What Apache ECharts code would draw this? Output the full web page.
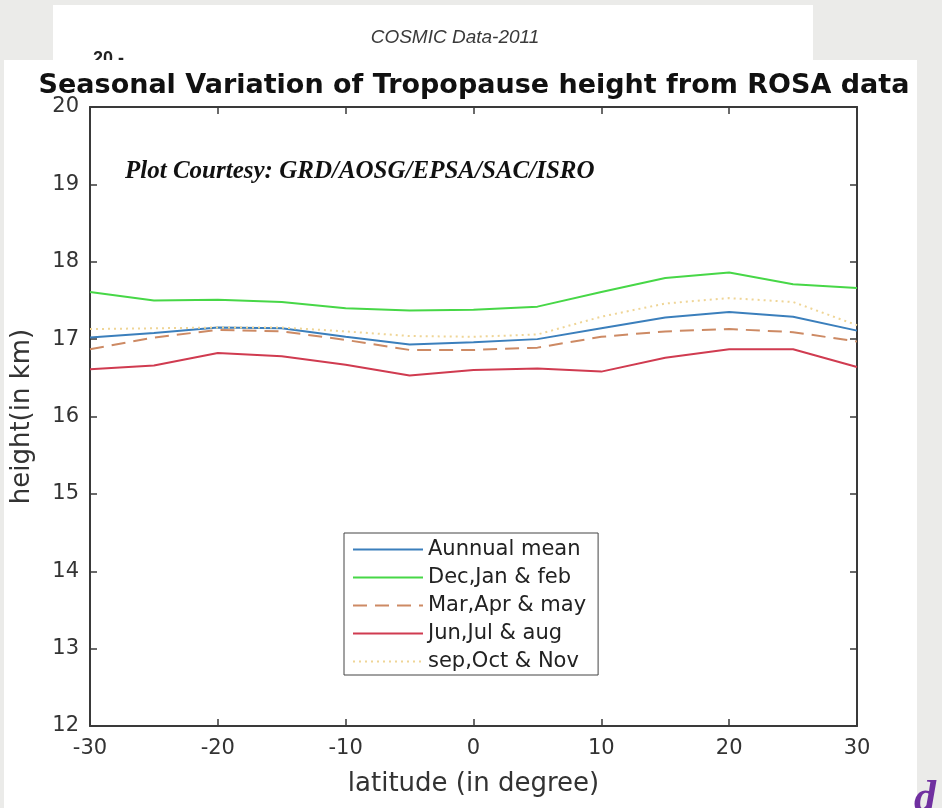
<!DOCTYPE html>
<html>
<head>
<meta charset="utf-8">
<style>
  html, body { margin: 0; padding: 0; background: #ebebe9; }
  #chart { width: 942px; height: 808px; }
</style>
<script src="https://cdn.jsdelivr.net/npm/echarts@6/dist/echarts.min.js"></script>
</head>
<body>
<div id="chart"></div>
<script>
// ---- data ----
const latitude = [-30, -25, -20, -15, -10, -5, 0, 5, 10, 15, 20, 25, 30];
const annualMean = [17.02, 17.08, 17.15, 17.14, 17.03, 16.93, 16.96, 17.00, 17.14, 17.28, 17.35, 17.29, 17.11];
const decJanFeb  = [17.61, 17.50, 17.51, 17.48, 17.40, 17.37, 17.38, 17.42, 17.61, 17.79, 17.86, 17.71, 17.66];
const marAprMay  = [16.87, 17.02, 17.12, 17.10, 16.99, 16.86, 16.86, 16.89, 17.03, 17.10, 17.13, 17.09, 16.97];
const junJulAug  = [16.61, 16.66, 16.82, 16.78, 16.67, 16.53, 16.60, 16.62, 16.58, 16.76, 16.87, 16.87, 16.64];
const sepOctNov  = [17.13, 17.14, 17.15, 17.15, 17.10, 17.04, 17.03, 17.06, 17.29, 17.46, 17.53, 17.48, 17.18];
const seriesNames = ['Aunnual mean', 'Dec,Jan & feb', 'Mar,Apr & may', 'Jun,Jul & aug', 'sep,Oct & Nov'];
const xTicks = [-30, -20, -10, 0, 10, 20, 30];
const yTicks = [12, 13, 14, 15, 16, 17, 18, 19, 20];

const pair = arr => latitude.map((x, i) => [x, arr[i]]);

const axisColor = '#3a3a3a';
const labelFont = { fontFamily: 'DejaVu Sans', fontSize: 21, color: '#333' };

const chart = echarts.init(document.getElementById('chart'), null, { renderer: 'canvas' });

function lineSeries(name, data, color, type) {
  return {
    name: name, type: 'line', data: pair(data), symbol: 'none', z: 6,
    xAxisIndex: 0, yAxisIndex: 0,
    lineStyle: { color: color, width: 2, type: type || 'solid' },
    itemStyle: { color: color },
    emphasis: { disabled: true }, animation: false
  };
}

const option = {
  backgroundColor: '#ebebe9',
  animation: false,
  grid: { left: 90, right: 85, top: 107, bottom: 82 },
  xAxis: [
    {
      type: 'value', position: 'bottom', min: xTicks[0], max: xTicks[xTicks.length - 1], interval: 10, z: 5,
      name: 'latitude (in degree)', nameLocation: 'middle', nameGap: 45,
      nameTextStyle: { fontFamily: 'DejaVu Sans', fontSize: 26, color: '#333' },
      axisLine: { show: true, onZero: false, lineStyle: { color: axisColor, width: 2 } },
      axisTick: { show: true, inside: true, length: 7, lineStyle: { color: axisColor, width: 1.5 } },
      axisLabel: Object.assign({ margin: 12 }, labelFont),
      splitLine: { show: false }
    },
    {
      type: 'value', position: 'top', min: xTicks[0], max: xTicks[xTicks.length - 1], interval: 10, z: 5,
      axisLine: { show: true, onZero: false, lineStyle: { color: axisColor, width: 2 } },
      axisTick: { show: true, inside: true, length: 7, lineStyle: { color: axisColor, width: 1.5 } },
      axisLabel: { show: false }, splitLine: { show: false }
    }
  ],
  yAxis: [
    {
      type: 'value', position: 'left', min: yTicks[0], max: yTicks[yTicks.length - 1], interval: 1, z: 5,
      name: 'height(in km)', nameLocation: 'middle', nameGap: 55,
      nameTextStyle: { fontFamily: 'DejaVu Sans', fontSize: 26, color: '#333' },
      axisLine: { show: true, onZero: false, lineStyle: { color: axisColor, width: 2 } },
      axisTick: { show: true, inside: true, length: 7, lineStyle: { color: axisColor, width: 1.5 } },
      axisLabel: Object.assign({ margin: 11 }, labelFont),
      splitLine: { show: false }
    },
    {
      type: 'value', position: 'right', min: yTicks[0], max: yTicks[yTicks.length - 1], interval: 1, z: 5,
      axisLine: { show: true, onZero: false, lineStyle: { color: axisColor, width: 2 } },
      axisTick: { show: true, inside: true, length: 7, lineStyle: { color: axisColor, width: 1.5 } },
      axisLabel: { show: false }, splitLine: { show: false }
    }
  ],
  legend: {
    orient: 'vertical', left: 344, top: 533, z: 8,
    data: seriesNames,
    itemWidth: 70, itemHeight: 14, itemGap: 7,
    padding: [6, 12, 3, 8],
    backgroundColor: '#ffffff', borderColor: '#444', borderWidth: 1,
    itemStyle: { opacity: 0, borderWidth: 0 },
    textStyle: { fontFamily: 'DejaVu Sans', fontSize: 21, color: '#222' },
    selectedMode: false
  },
  series: [
    lineSeries(seriesNames[0], annualMean, '#3b7fbc'),
    lineSeries(seriesNames[1], decJanFeb, '#47d747'),
    lineSeries(seriesNames[2], marAprMay, '#cd8a64', [14, 8]),
    lineSeries(seriesNames[3], junJulAug, '#d03b50'),
    lineSeries(seriesNames[4], sepOctNov, '#efd596', [2, 4])
  ],
  graphic: [
    { type: 'rect', z: 0, silent: true, shape: { x: 53, y: 5, width: 760, height: 60 }, style: { fill: '#ffffff' } },
    { type: 'text', z: 1, silent: true, style: { x: 455, y: 38, text: 'COSMIC Data-2011', textAlign: 'center', textVerticalAlign: 'middle', font: 'italic 19px "Liberation Sans"', fill: '#3a3a3a' } },
    { type: 'text', z: 1, silent: true, style: { x: 93, y: 59, text: '20 -', textAlign: 'left', textVerticalAlign: 'middle', font: 'bold 18px "Liberation Sans"', fill: '#222' } },
    { type: 'rect', z: 2, silent: true, shape: { x: 4, y: 60, width: 913, height: 760 }, style: { fill: '#ffffff' } },
    { type: 'text', z: 3, silent: true, style: { x: 474, y: 86, text: 'Seasonal Variation of Tropopause height from ROSA data', textAlign: 'center', textVerticalAlign: 'middle', font: 'bold 27px "DejaVu Sans"', fill: '#111' } },
    { type: 'text', z: 7, silent: true, style: { x: 125, y: 172, text: 'Plot Courtesy: GRD/AOSG/EPSA/SAC/ISRO', textAlign: 'left', textVerticalAlign: 'middle', font: 'bold italic 25px "Liberation Serif"', fill: '#111' } },
    { type: 'text', z: 3, silent: true, style: { x: 914, y: 822, text: 'd', textAlign: 'left', textVerticalAlign: 'bottom', font: 'bold italic 44px "Liberation Serif"', fill: '#7030a0' } }
  ]
};

chart.setOption(option);
</script>
</body>
</html>
